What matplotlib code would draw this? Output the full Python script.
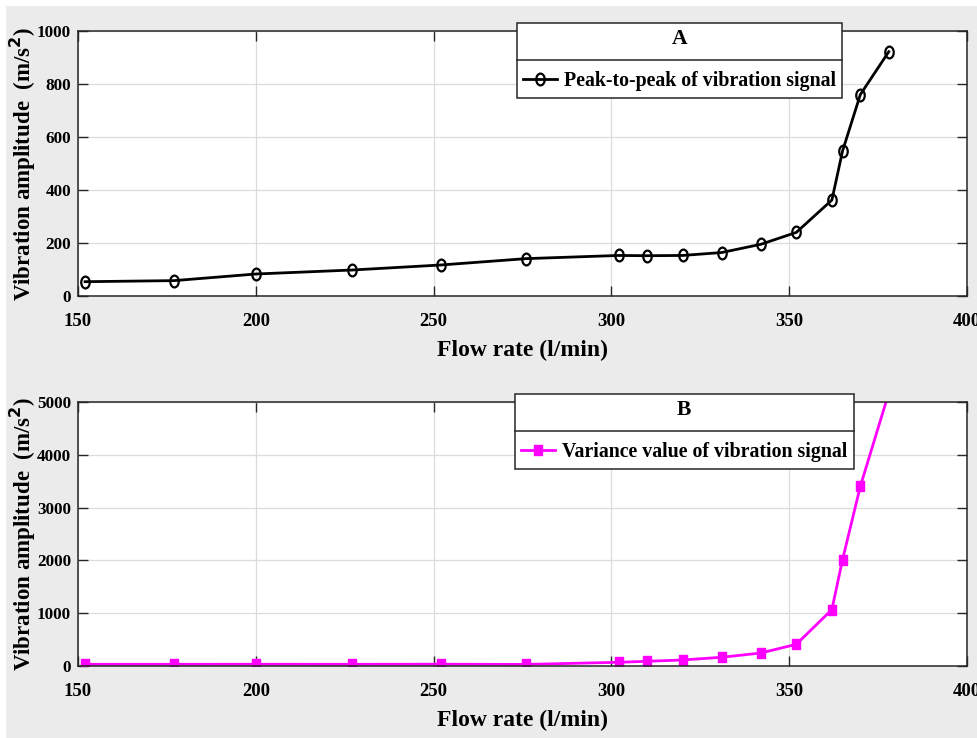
import matplotlib
matplotlib.use("Agg")
import matplotlib.pyplot as plt
from matplotlib.path import Path
from matplotlib.transforms import Affine2D
from matplotlib.patches import Rectangle
from matplotlib.lines import Line2D

# flow rate (l/min)
flow = [152, 177, 200, 227, 252, 276, 302, 310, 320, 331, 342, 352, 362, 365, 370, 378]
# A: peak-to-peak of vibration signal (m/s^2)
p2p = [54, 58, 83, 98, 117, 141, 153, 152, 153, 164, 195, 240, 362, 547, 760, 922]
# B: variance value of vibration signal
variance = [32, 32, 33, 32, 34, 30, 70, 89, 114, 165, 246, 411, 1068, 2015, 3403, 5170]

xticks = [150, 200, 250, 300, 350, 400]
yticks_a = [0, 200, 400, 600, 800, 1000]
yticks_b = [0, 1000, 2000, 3000, 4000, 5000]

W, H = 977, 738
plt.rcParams["font.family"] = ["Liberation Serif", "DejaVu Serif"]
plt.rcParams["font.weight"] = "bold"

fig = plt.figure(figsize=(W / 100, H / 100), dpi=100, facecolor="white")
fig.patches.append(Rectangle((6 / W, 0), 1, 1 - 6 / H, transform=fig.transFigure,
                             facecolor="#ebebeb", edgecolor="none", zorder=-10))

# squeezed markers, like the reference
ell = Path.unit_circle().transformed(Affine2D().scale(0.72, 1.0))
sq = Path([(-0.72, -1), (0.72, -1), (0.72, 1), (-0.72, 1), (-0.72, -1)],
          [Path.MOVETO, Path.LINETO, Path.LINETO, Path.LINETO, Path.CLOSEPOLY])


def fpos(left, top, right, bottom):
    return [left / W, 1 - bottom / H, (right - left) / W, (bottom - top) / H]


def style(ax, yticks, ylim):
    ax.set_xlim(150, 400)
    ax.set_ylim(*ylim)
    ax.set_xticks(xticks)
    ax.set_yticks(yticks)
    ax.grid(True, color="#dcdcdc", lw=0.9)
    ax.set_axisbelow(True)
    ax.tick_params(direction="in", length=7, width=1, top=True, right=True,
                   colors="#262626")
    ax.tick_params(axis="x", pad=12, labelsize=13.5)
    ax.tick_params(axis="y", pad=5, labelsize=12.3)
    for s in ax.spines.values():
        s.set_color("#262626")
        s.set_linewidth(1.1)
    for lab in ax.get_xticklabels() + ax.get_yticklabels():
        lab.set_color("black")
        lab.set_fontweight("bold")
    ax.set_xlabel("Flow rate (l/min)", fontsize=17, fontweight="bold", labelpad=7)
    ax.set_ylabel(r"Vibration amplitude  (m/s$^{\mathbf{2}}$)", fontsize=16.5,
                  fontweight="bold")
    ax.yaxis.set_label_coords(-0.0445, 0.5)


def legend_box(ax, title, left, top):
    leg = ax.legend(title=title, loc="upper left",
                    bbox_to_anchor=(left / W, 1 - top / H),
                    bbox_transform=fig.transFigure,
                    fontsize=14.3, title_fontproperties={"size": 15.5, "weight": "bold"},
                    frameon=True, fancybox=False, edgecolor="#262626", framealpha=1,
                    borderpad=0.32, labelspacing=1.1, handlelength=1.7,
                    handletextpad=0.35, borderaxespad=0)
    leg.get_frame().set_linewidth(1.1)
    for t in leg.get_texts():
        t.set_fontweight("bold")
    leg.set_zorder(5)
    return leg


ax1 = fig.add_axes(fpos(78, 31, 967, 296))
ax1.plot(flow, p2p, color="black", lw=2, marker=ell, ms=8.5, mfc="none", mew=1.6,
         label="Peak-to-peak of vibration signal")
style(ax1, yticks_a, (0, 1000))
leg1 = legend_box(ax1, "A", 517, 23)

ax2 = fig.add_axes(fpos(78, 402, 967, 666))
ax2.plot(flow, variance, color="#ff00ff", lw=2, marker=sq, ms=7.5, mfc="#ff00ff",
         mec="#ff00ff", label="Variance value of vibration signal")
style(ax2, yticks_b, (0, 5000))
leg2 = legend_box(ax2, "B", 515, 394)

fig.canvas.draw()
r = fig.canvas.get_renderer()
inv = fig.transFigure.inverted()
for leg in (leg1, leg2):
    bb = leg.get_window_extent(r)
    tb = leg.get_title().get_window_extent(r)
    eb = leg.get_texts()[0].get_window_extent(r)
    y = (tb.y0 + eb.y1) / 2
    (x0, yy), (x1, _) = inv.transform([(bb.x0, y), (bb.x1, y)])
    fig.add_artist(Line2D([x0, x1], [yy, yy], transform=fig.transFigure,
                          color="#262626", lw=1.1, zorder=6))

fig.savefig("out.png", dpi=100, facecolor=fig.get_facecolor())
